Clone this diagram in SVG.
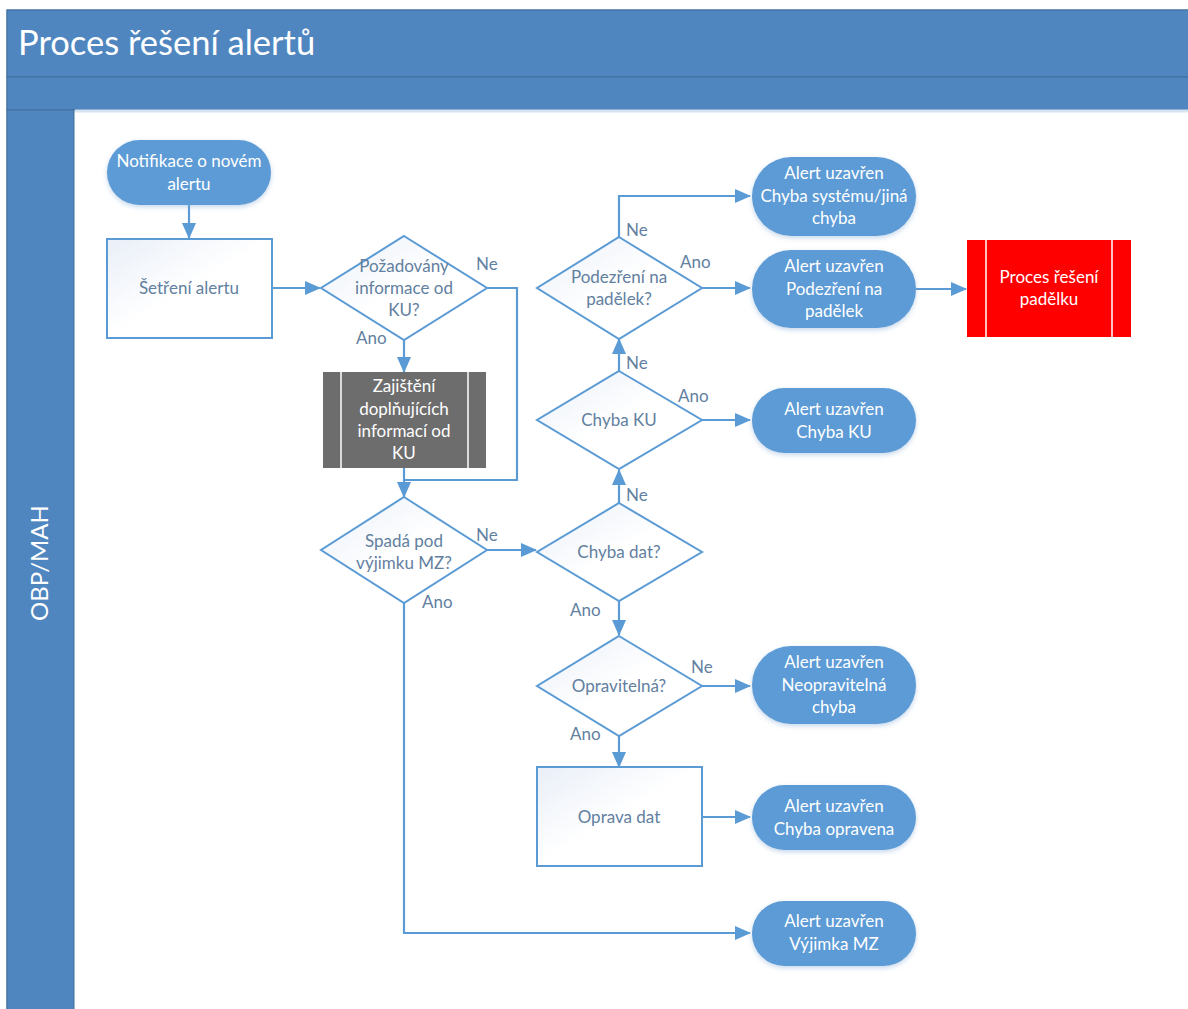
<svg xmlns="http://www.w3.org/2000/svg" width="1188" height="1009" viewBox="0 0 1188 1009">
<defs>
<marker id="arr" markerWidth="16" markerHeight="14" refX="15" refY="7" orient="auto" markerUnits="userSpaceOnUse">
<path d="M0,0 L16,7 L0,14 Z" fill="#5b9bd5"/>
</marker>
<linearGradient id="boxg" x1="0" y1="0" x2="1" y2="1">
<stop offset="0" stop-color="#e9eff8"/>
<stop offset="0.5" stop-color="#ffffff"/>
</linearGradient>
<filter id="sh" x="-20%" y="-20%" width="140%" height="150%">
<feDropShadow dx="0" dy="2" stdDeviation="2.5" flood-color="#7ea6d3" flood-opacity="0.45"/>
</filter>
<style>
text{font-family:Lato,"Open Sans","Liberation Sans",sans-serif;font-size:17px;}
.t{fill:#ffffff;text-anchor:middle;}
.d{fill:#62809f;text-anchor:middle;}
.lb{fill:#62809f;font-size:17px;}
.term{fill:#5b9bd5;filter:url(#sh);}
.box{fill:url(#boxg);stroke:#5b9bd5;stroke-width:2;}
.dia{fill:url(#boxg);stroke:#5b9bd5;stroke-width:2;}
.c{fill:none;stroke:#5b9bd5;stroke-width:2.2;}
</style>
</defs>
<rect x="0" y="0" width="1188" height="1009" fill="#ffffff"/>
<g id="pool">
<rect x="7" y="10" width="1190" height="1010" fill="#ffffff" stroke="#41719c" stroke-width="1"/>
<rect x="7" y="10" width="1190" height="67" fill="#4f86bf" stroke="#41719c" stroke-width="1"/>
<rect x="7" y="77" width="1190" height="33" fill="#4f86bf" stroke="#41719c" stroke-width="1"/>
<rect x="7" y="110" width="67" height="910" fill="#4f86bf" stroke="#41719c" stroke-width="1"/>
<line x1="75" y1="111" x2="1188" y2="111" stroke="#d6e4f3" stroke-width="3"/>
<text x="18" y="55" style="font-size:34.5px;fill:#ffffff;">Proces řešení alertů</text>
<text transform="translate(48,563) rotate(-90)" class="t" style="font-size:24px;">OBP/MAH</text>
</g>
<g id="connectors">
<path class="c" d="M189,205 V238" marker-end="url(#arr)"/>
<path class="c" d="M272,288 H320" marker-end="url(#arr)"/>
<path class="c" d="M404,340 V372" marker-end="url(#arr)"/>
<path class="c" d="M487,288 H517 V480 H404"/>
<path class="c" d="M404,468 V497" marker-end="url(#arr)"/>
<path class="c" d="M487,550 H536" marker-end="url(#arr)"/>
<path class="c" d="M404,603 V933 H750" marker-end="url(#arr)"/>
<path class="c" d="M619,503 V470" marker-end="url(#arr)"/>
<path class="c" d="M702,420 H750" marker-end="url(#arr)"/>
<path class="c" d="M619,371 V339" marker-end="url(#arr)"/>
<path class="c" d="M702,288 H750" marker-end="url(#arr)"/>
<path class="c" d="M619,237 V196 H750" marker-end="url(#arr)"/>
<path class="c" d="M916,289 H966" marker-end="url(#arr)"/>
<path class="c" d="M619,601 V635" marker-end="url(#arr)"/>
<path class="c" d="M702,686 H750" marker-end="url(#arr)"/>
<path class="c" d="M619,734 V767" marker-end="url(#arr)"/>
<path class="c" d="M702,817 H750" marker-end="url(#arr)"/>
<text class="lb" x="476" y="270">Ne</text>
<text class="lb" x="356" y="344">Ano</text>
<text class="lb" x="476" y="541">Ne</text>
<text class="lb" x="422" y="608">Ano</text>
<text class="lb" x="626" y="501">Ne</text>
<text class="lb" x="570" y="616">Ano</text>
<text class="lb" x="678" y="402">Ano</text>
<text class="lb" x="626" y="369">Ne</text>
<text class="lb" x="680" y="268">Ano</text>
<text class="lb" x="626" y="236">Ne</text>
<text class="lb" x="691" y="673">Ne</text>
<text class="lb" x="570" y="740">Ano</text>
</g>
<g id="n_notif">
<rect class="term" x="107" y="140" width="164" height="65" rx="32.5"/>
<text class="t" x="189" y="167">Notifikace o novém</text>
<text class="t" x="189" y="190">alertu</text>
</g>
<g id="n_setreni">
<rect class="box" x="107" y="239" width="165" height="99"/>
<text class="d" x="189" y="294">Šetření alertu</text>
</g>
<g id="n_pozadovany">
<polygon class="dia" points="404,236 487,288 404,340 321,288"/>
<text class="d" x="404" y="272">Požadovány</text>
<text class="d" x="404" y="294">informace od</text>
<text class="d" x="404" y="316">KU?</text>
</g>
<g id="n_zajisteni">
<rect x="323" y="372" width="163" height="96" fill="#6d6d6d"/>
<line x1="341" y1="372" x2="341" y2="468" stroke="#ffffff" stroke-width="1.5"/>
<line x1="468" y1="372" x2="468" y2="468" stroke="#ffffff" stroke-width="1.5"/>
<text class="t" x="404" y="392">Zajištění</text>
<text class="t" x="404" y="415">doplňujících</text>
<text class="t" x="404" y="437">informací od</text>
<text class="t" x="404" y="459">KU</text>
</g>
<g id="n_spada">
<polygon class="dia" points="404,497 487,550 404,603 321,550"/>
<text class="d" x="404" y="547">Spadá pod</text>
<text class="d" x="404" y="569">výjimku MZ?</text>
</g>
<g id="n_chybadat">
<polygon class="dia" points="619,503 702,552 619,601 537,552"/>
<text class="d" x="619" y="558">Chyba dat?</text>
</g>
<g id="n_chybaku">
<polygon class="dia" points="619,371 702,420 619,469 537,420"/>
<text class="d" x="619" y="426">Chyba KU</text>
</g>
<g id="n_podezreni">
<polygon class="dia" points="619,237 702,288 619,339 537,288"/>
<text class="d" x="619" y="283">Podezření na</text>
<text class="d" x="619" y="305">padělek?</text>
</g>
<g id="n_opravitelna">
<polygon class="dia" points="619,636 702,686 619,736 537,686"/>
<text class="d" x="619" y="692">Opravitelná?</text>
</g>
<g id="n_oprava">
<rect class="box" x="537" y="767" width="165" height="99"/>
<text class="d" x="619" y="823">Oprava dat</text>
</g>
<g id="n_end_system">
<rect class="term" x="752" y="157" width="164" height="79" rx="39.5"/>
<text class="t" x="834" y="179">Alert uzavřen</text>
<text class="t" x="834" y="202">Chyba systému/jiná</text>
<text class="t" x="834" y="224">chyba</text>
</g>
<g id="n_end_podezreni">
<rect class="term" x="752" y="250" width="164" height="78" rx="39"/>
<text class="t" x="834" y="272">Alert uzavřen</text>
<text class="t" x="834" y="295">Podezření na</text>
<text class="t" x="834" y="317">padělek</text>
</g>
<g id="n_padelek">
<rect x="967" y="240" width="164" height="97" fill="#ff0000"/>
<line x1="986" y1="240" x2="986" y2="337" stroke="#ffffff" stroke-width="1.5"/>
<line x1="1112" y1="240" x2="1112" y2="337" stroke="#ffffff" stroke-width="1.5"/>
<text class="t" x="1049" y="283">Proces řešení</text>
<text class="t" x="1049" y="305">padělku</text>
</g>
<g id="n_end_ku">
<rect class="term" x="752" y="388" width="164" height="65" rx="32.5"/>
<text class="t" x="834" y="415">Alert uzavřen</text>
<text class="t" x="834" y="438">Chyba KU</text>
</g>
<g id="n_end_neopr">
<rect class="term" x="752" y="646" width="164" height="78" rx="39"/>
<text class="t" x="834" y="668">Alert uzavřen</text>
<text class="t" x="834" y="691">Neopravitelná</text>
<text class="t" x="834" y="713">chyba</text>
</g>
<g id="n_end_opravena">
<rect class="term" x="752" y="785" width="164" height="65" rx="32.5"/>
<text class="t" x="834" y="812">Alert uzavřen</text>
<text class="t" x="834" y="835">Chyba opravena</text>
</g>
<g id="n_end_vyjimka">
<rect class="term" x="752" y="901" width="164" height="65" rx="32.5"/>
<text class="t" x="834" y="927">Alert uzavřen</text>
<text class="t" x="834" y="950">Výjimka MZ</text>
</g>
</svg>
